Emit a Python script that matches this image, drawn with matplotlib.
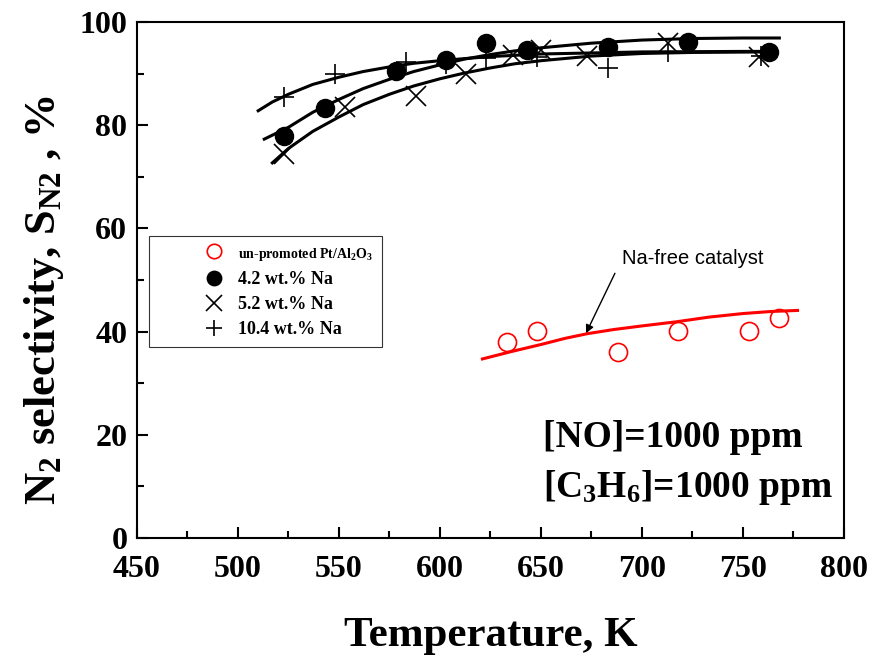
import numpy as np
import matplotlib
matplotlib.use('Agg')
import matplotlib.pyplot as plt
from matplotlib.ticker import MultipleLocator

plt.rcParams['font.family'] = ['Liberation Serif', 'DejaVu Serif']
plt.rcParams['font.weight'] = 'bold'
plt.rcParams['axes.labelweight'] = 'bold'
plt.rcParams['mathtext.fontset'] = 'custom'
plt.rcParams['mathtext.rm'] = 'Liberation Serif:bold'
plt.rcParams['mathtext.it'] = 'Liberation Serif:bold'
plt.rcParams['mathtext.bf'] = 'Liberation Serif:bold'

# measured points
t_free = [633, 648, 688, 718, 753, 768]
s_free = [38.0, 40.1, 36.0, 40.1, 40.1, 42.6]

t_42 = [523, 543, 578, 603, 623, 643, 683, 723, 763]
s_42 = [78.0, 83.3, 90.5, 92.6, 96.0, 94.6, 95.2, 96.1, 94.2]

t_52 = [523, 553, 588, 613, 636, 650, 673, 713, 758]
s_52 = [74.5, 83.5, 85.6, 90.0, 93.7, 94.6, 93.4, 95.9, 93.2]

t_104 = [523, 548, 583, 603, 623, 648, 683, 713, 759]
s_104 = [85.5, 90.0, 92.2, 91.8, 93.0, 93.2, 91.0, 94.2, 93.5]

# fitted curves
tc_free = [621, 635, 650, 662, 673, 686, 700, 717, 733, 750, 764, 777]
sc_free = [34.7, 36.1, 37.5, 38.7, 39.6, 40.4, 41.1, 41.9, 42.8, 43.5, 43.9, 44.1]

tc_42 = [513, 525, 537, 550, 562, 575, 587, 600, 612, 625, 637, 650, 675, 700, 725, 750, 768]
sc_42 = [77.3, 79.6, 82.5, 85.0, 87.1, 88.9, 90.4, 91.7, 92.8, 93.7, 94.4, 95.0, 95.9, 96.5, 96.8, 96.9, 96.9]

tc_52 = [517, 525, 537, 550, 562, 575, 587, 600, 612, 625, 637, 650, 675, 700, 725, 762]
sc_52 = [72.7, 75.5, 78.8, 81.6, 84.0, 86.0, 87.6, 89.0, 90.1, 91.1, 91.9, 92.5, 93.4, 93.9, 94.1, 94.2]

tc_104 = [510, 517, 525, 537, 550, 562, 575, 587, 600, 612, 625, 650, 675, 700, 750, 762]
sc_104 = [82.8, 84.5, 86.0, 87.9, 89.3, 90.4, 91.3, 92.0, 92.5, 92.9, 93.3, 93.8, 94.0, 94.2, 94.3, 94.3]

fig = plt.figure(figsize=(8.81, 6.58), dpi=100)
ax = fig.add_axes([137/881, 1-538/658, 707/881, 516/658])

ax.plot(tc_free, sc_free, color='red', lw=2.2)
ax.plot(tc_42, sc_42, color='black', lw=2.2)
ax.plot(tc_52, sc_52, color='black', lw=2.2)
ax.plot(tc_104, sc_104, color='black', lw=2.2)

ax.plot(t_free, s_free, 'o', ms=13, mfc='none', mec='red', mew=1.2,
        label=r'un-promoted Pt/Al$_2$O$_3$')
ax.plot(t_42, s_42, 'o', ms=13, color='black', label='4.2 wt.% Na')
ax.plot(t_52, s_52, 'x', ms=14, color='black', mew=1.2, label='5.2 wt.% Na')
ax.plot(t_104, s_104, '+', ms=15, color='black', mew=1.2, label='10.4 wt.% Na')

ax.set_xlim(450, 800)
ax.set_ylim(0, 100)
ax.xaxis.set_major_locator(MultipleLocator(50))
ax.xaxis.set_minor_locator(MultipleLocator(25))
ax.yaxis.set_major_locator(MultipleLocator(20))
ax.yaxis.set_minor_locator(MultipleLocator(10))
ax.tick_params(which='both', direction='in', top=False, right=False, width=1.5,
               labelsize=23)
ax.tick_params(axis='x', pad=12)
ax.tick_params(axis='y', pad=7)
ax.tick_params(which='major', length=8)
ax.tick_params(which='minor', length=5)
for s in ax.spines.values():
    s.set_linewidth(1.5)

ax.set_xlabel('Temperature, K', fontsize=31, labelpad=24)
ax.set_ylabel(r'N$_2$ selectivity, S$_{\rm N2}$ , %', fontsize=32)
ax.yaxis.set_label_coords(-0.1, 0.461)

leg = ax.legend(loc='upper left', bbox_to_anchor=(0.017, 0.585), borderaxespad=0,
                fontsize=13, markerscale=0.8, frameon=True, fancybox=False,
                edgecolor='black', labelspacing=0.45, handlelength=6.2,
                handletextpad=-1.75, borderpad=0.5)
leg.get_frame().set_linewidth(0.8)
leg.get_texts()[0].set_fontsize(10)

ax.annotate('', xy=(672.3, 39.7), xytext=(686.6, 51.3),
            arrowprops=dict(arrowstyle='-|>', color='black', lw=1.0,
                            shrinkA=0, shrinkB=0, mutation_scale=12))
ax.text(690, 54.2, 'Na-free catalyst', fontsize=14.5, family='Liberation Sans',
        fontweight='normal', ha='left', va='center')

ax.text(651, 19.5, '[NO]=1000 ppm', fontsize=27, ha='left', va='center')
ax.text(651, 9.8, r'[C$_3$H$_6$]=1000 ppm', fontsize=27, ha='left', va='center')

fig.savefig('out.png', dpi=100)
